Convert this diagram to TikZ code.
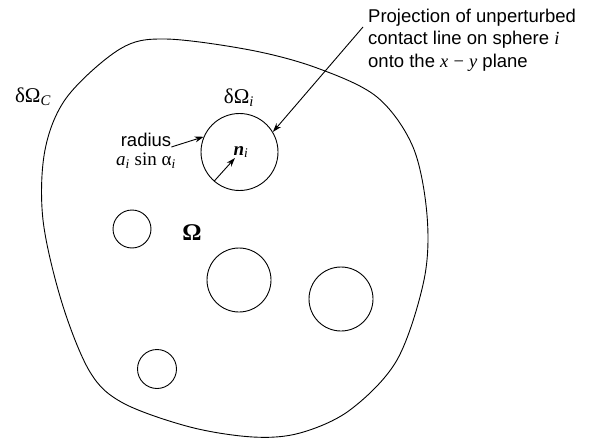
\documentclass[tikz,border=0pt]{standalone}
\usepackage{fontspec}
\setmainfont{Liberation Serif}
\newfontfamily\sansf{Liberation Sans}
\usetikzlibrary{arrows.meta}
\begin{document}
\begin{tikzpicture}[x=1pt,y=-1pt,
  lbl/.style={font=\sansf\fontsize{18.5}{22.5}\selectfont, inner sep=0pt, align=left},
  grk/.style={font=\fontsize{21}{24}\selectfont, inner sep=0pt},
  mth/.style={font=\fontsize{19}{22}\selectfont, inner sep=0pt},
  hole/.style={draw, circle, line width=0.9pt, inner sep=0pt},
  arr/.style={line width=0.9pt, -{Stealth[length=9pt,width=6pt]}}]
\useasboundingbox (0,0) rectangle (594,441);
% outer boundary
\draw[line width=0.9pt] plot[smooth cycle, tension=0.55] coordinates {
  (165,39) (250,50) (317,68) (377,97) (413,147) (427,215) (424,280)
  (397,360) (350,410) (300,433) (253,437) (190,427) (123,403) (90,372)
  (62,303) (43,220) (45,150) (67,97) (120,49)};
% holes
\node[hole, minimum size=77pt] (ci) at (239.5,152) {};
\node[hole, minimum size=38pt] (c1) at (132,229) {};
\node[hole, minimum size=64pt] (c2) at (239,280) {};
\node[hole, minimum size=64pt] (c3) at (341,299) {};
\node[hole, minimum size=39pt] (c4) at (157,369) {};
% labels
\node[grk] (dOc) at (33,97) {δΩ\textsubscript{\itshape C}};
\node[grk] (dOi) at (239,98) {δΩ\textsubscript{\itshape i}};
\node[grk, font=\fontsize{24}{26}\selectfont\bfseries] (om) at (192,233) {Ω};
\node[mth] (ni) at (241,152) {{\bfseries\itshape n}\textsubscript{\itshape i}};
\node[lbl] (rad) at (146,140) {radius};
\node[mth] (asin) at (146,161) {{\itshape a}\textsubscript{\itshape i} sin α\textsubscript{\itshape i}};
\node[lbl, anchor=north west] (proj) at (368,8.5) {Projection of unperturbed\\contact line on sphere {\rmfamily\itshape i}\\onto the {\rmfamily\itshape x} {\rmfamily −} {\rmfamily\itshape y} plane};
\coordinate (ps) at (363,27);
% arrows
\draw[arr] (ps) -- (ci.31);
\draw[arr] (rad.south east) -- (ci.157);
\draw[arr] (ci.229) -- (235,158);
\end{tikzpicture}
\end{document}
